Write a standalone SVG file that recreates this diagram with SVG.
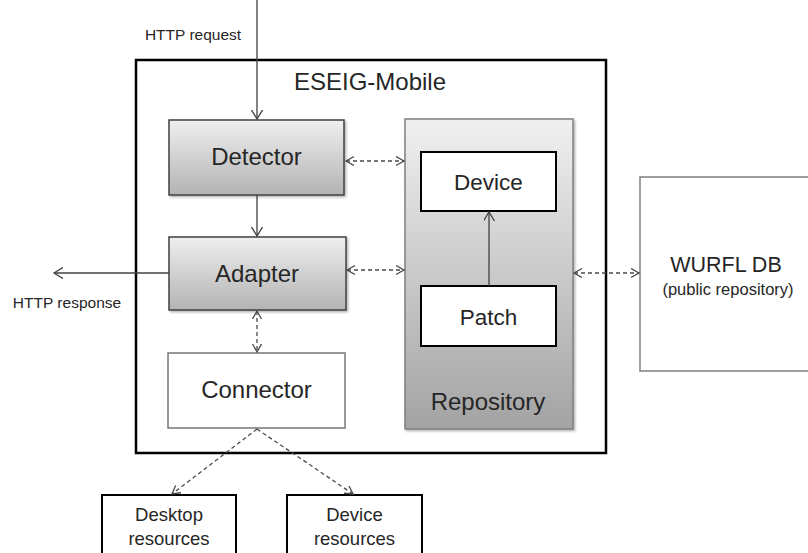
<svg xmlns="http://www.w3.org/2000/svg" width="808" height="553" viewBox="0 0 808 553">
<style>
text { font-family: "Liberation Sans", Arial, sans-serif; fill: #262626; text-anchor: middle; }
.big { font-size: 24px; }
.mid { font-size: 22.5px; }
.sm { font-size: 15.5px; }
.res { font-size: 18.5px; }
.solid { stroke: #404040; stroke-width: 1.3; fill: none; }
.dash { stroke: #4a4a4a; stroke-width: 1.3; fill: none; stroke-dasharray: 4 3; }
</style>
<defs>
<linearGradient id="gBox" x1="0" y1="0" x2="0" y2="1">
<stop offset="0" stop-color="#efefef"/>
<stop offset="1" stop-color="#b3b3b3"/>
</linearGradient>
<linearGradient id="gRepo" x1="0" y1="0" x2="0" y2="1">
<stop offset="0" stop-color="#f0f0f0"/>
<stop offset="1" stop-color="#a3a3a3"/>
</linearGradient>
<filter id="sh" x="-10%" y="-10%" width="120%" height="120%">
<feDropShadow dx="1.5" dy="1.5" stdDeviation="1" flood-color="#000" flood-opacity="0.3"/>
</filter>
<marker id="ah" markerUnits="userSpaceOnUse" markerWidth="12" markerHeight="12" refX="9" refY="5.5" orient="auto-start-reverse">
<path d="M0,0 L9,5.5 L0,11" fill="none" stroke="#404040" stroke-width="1.3"/>
</marker>
<marker id="ad" markerUnits="userSpaceOnUse" markerWidth="12" markerHeight="12" refX="8" refY="5" orient="auto-start-reverse">
<path d="M0,0.5 L8,5 L0,9.5" fill="none" stroke="#4a4a4a" stroke-width="1.3"/>
</marker>
</defs>
<rect width="808" height="553" fill="#fff"/>

<g id="eseig-mobile">
<rect x="136" y="60" width="470" height="393" fill="none" stroke="#000" stroke-width="2.5"/>
<text class="big" x="370" y="90" font-size="23">ESEIG-Mobile</text>
</g>

<g id="detector">
<rect x="169" y="120" width="175" height="75" fill="url(#gBox)" stroke="#404040" stroke-width="1.5" filter="url(#sh)"/>
<text class="big" x="256.5" y="165">Detector</text>
</g>

<g id="adapter">
<rect x="169" y="237" width="177" height="73" fill="url(#gBox)" stroke="#404040" stroke-width="1.5" filter="url(#sh)"/>
<text class="big" x="257" y="282">Adapter</text>
</g>

<g id="connector">
<rect x="168" y="353" width="177" height="75" fill="#fff" stroke="#777" stroke-width="1.5"/>
<text class="big" x="256.5" y="398">Connector</text>
</g>

<g id="repository">
<rect x="405" y="119" width="168" height="310" fill="url(#gRepo)" stroke="#7f7f7f" stroke-width="1.5" filter="url(#sh)"/>
<text class="big" x="488" y="410">Repository</text>
</g>

<g id="device">
<rect x="421" y="152" width="135" height="59" fill="#fff" stroke="#000" stroke-width="2"/>
<text class="mid" x="488.5" y="190">Device</text>
</g>

<g id="patch">
<rect x="421" y="286" width="135" height="60" fill="#fff" stroke="#000" stroke-width="2"/>
<text class="mid" x="488.5" y="325">Patch</text>
</g>

<g id="wurfl-db">
<rect x="640" y="177" width="180" height="194" fill="#fff" stroke="#7f7f7f" stroke-width="1.5"/>
<text x="726" y="272" font-size="21.5">WURFL DB</text>
<text x="728" y="295" font-size="16.5">(public repository)</text>
</g>

<g id="desktop-resources">
<rect x="102" y="495" width="134" height="70" fill="#fff" stroke="#000" stroke-width="2"/>
<text class="res" x="169" y="521">Desktop</text>
<text class="res" x="169" y="545">resources</text>
</g>

<g id="device-resources">
<rect x="287" y="495" width="135" height="70" fill="#fff" stroke="#000" stroke-width="2"/>
<text class="res" x="354.5" y="521">Device</text>
<text class="res" x="354.5" y="545">resources</text>
</g>

<g id="labels">
<text class="sm" x="193" y="40">HTTP request</text>
<text class="sm" x="67" y="308">HTTP response</text>
</g>

<g id="connectors">
<line class="solid" x1="257" y1="0" x2="257" y2="119" marker-end="url(#ah)"/>
<line class="solid" x1="257" y1="195" x2="257" y2="236" marker-end="url(#ah)"/>
<line class="solid" x1="169" y1="273" x2="54" y2="273" marker-end="url(#ah)"/>
<line class="solid" x1="489" y1="286" x2="489" y2="212" marker-end="url(#ah)"/>
<line class="dash" x1="346" y1="161" x2="404" y2="161" marker-start="url(#ad)" marker-end="url(#ad)"/>
<line class="dash" x1="347" y1="270" x2="404" y2="270" marker-start="url(#ad)" marker-end="url(#ad)"/>
<line class="dash" x1="574" y1="273" x2="639" y2="273" marker-start="url(#ad)" marker-end="url(#ad)"/>
<line class="dash" x1="257" y1="311" x2="257" y2="352" marker-start="url(#ad)" marker-end="url(#ad)"/>
<line class="dash" x1="257" y1="429" x2="172" y2="494" marker-end="url(#ad)"/>
<line class="dash" x1="257" y1="429" x2="353" y2="494" marker-end="url(#ad)"/>
</g>
</svg>
